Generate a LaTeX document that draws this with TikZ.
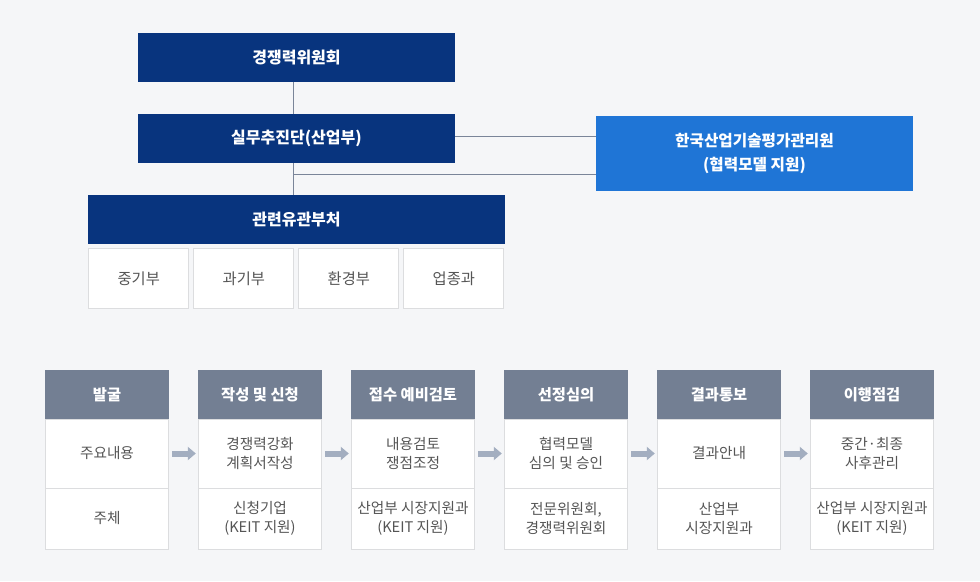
\documentclass[tikz,border=0pt]{standalone}
\usepackage{fontspec}
\setmainfont{Noto Sans CJK KR}
\usetikzlibrary{arrows.meta,calc}
\definecolor{bgc}{HTML}{F5F6F8}
\definecolor{navy}{HTML}{08347E}
\definecolor{keitblue}{HTML}{1F75D6}
\definecolor{hdr}{HTML}{737F93}
\definecolor{conncol}{HTML}{7A8599}
\definecolor{cellline}{HTML}{DCDDDF}
\definecolor{txt}{HTML}{555555}
\definecolor{arrc}{HTML}{A3AEC0}
\tikzset{
  navybox/.style={rectangle, fill=navy, draw=none, inner sep=0pt, minimum width=317*0.75pt, minimum height=49*0.75pt, text=white, font=\bfseries\fontsize{12}{14}\selectfont, align=center},
  keitbox/.style={rectangle, fill=keitblue, draw=none, inner sep=0pt, minimum width=317*0.75pt, minimum height=75*0.75pt, text=white, font=\bfseries\fontsize{11.75}{18}\selectfont, align=center},
  subbox/.style={rectangle, fill=white, draw=cellline, line width=0.75pt, inner sep=0pt, minimum width=100*0.75pt, minimum height=60*0.75pt, text=txt, font=\fontsize{11.5}{14}\selectfont},
  hdrbox/.style={rectangle, fill=hdr, draw=none, inner sep=0pt, minimum width=123.4*0.75pt, minimum height=49*0.75pt, text=white, font=\bfseries\fontsize{11.5}{14}\selectfont, align=center},
  cellA/.style={rectangle, fill=white, draw=cellline, line width=0.75pt, inner sep=0pt, minimum width=122.6*0.75pt, minimum height=69*0.75pt, text=txt, font=\fontsize{11}{14}\selectfont, align=center},
  cellB/.style={rectangle, fill=white, draw=cellline, line width=0.75pt, inner sep=0pt, minimum width=122.6*0.75pt, minimum height=61*0.75pt, text=txt, font=\fontsize{11}{14}\selectfont, align=center},
  conn/.style={draw=conncol, line width=0.8pt},
  flowarrow/.style={draw=arrc, line width=4.5pt, -{Triangle[length=6pt, width=9.75pt]}},
}
\begin{document}
\begin{tikzpicture}[x=0.75pt, y=-0.75pt]
\useasboundingbox (0,0) rectangle (980,581);
\fill[bgc] (0,0) rectangle (980,581);

% top org chart
\node[navybox] (c1) at (296.5,57.5) {경쟁력위원회};
\node[navybox] (c2) at (296.5,138.5) {실무추진단(산업부)};
\node[navybox, minimum width=417*0.75pt] (c3) at (296.5,219.5) {관련유관부처};
\node[keitbox] (keit) at (754.5,153.5) {한국산업기술평가관리원\\(협력모델 지원)};

\node[subbox] (s1) at (138.8,278.8) {중기부};
\node[subbox] (s2) at (243.8,278.8) {과기부};
\node[subbox] (s3) at (348.8,278.8) {환경부};
\node[subbox] (s4) at (453.8,278.8) {업종과};

\coordinate (j1) at (293.3,174.3);
\draw[conn] (c1.south -| j1) -- (c2.north -| j1);
\draw[conn] (c2.south -| j1) -- (c3.north -| j1);
\draw[conn] ($(c2.east)+(0,-1.8)$) -- (keit.west |- {$(c2.east)+(0,-1.8)$});
\draw[conn] (j1) -- (keit.west |- j1);

% bottom process
\foreach \i/\h/\a/\b in {
  0/발굴/주요내용/주체,
  1/작성 및 신청/경쟁력강화\\계획서작성/신청기업\\(KEIT 지원),
  2/접수 예비검토/내용검토\\쟁점조정/산업부 시장지원과\\(KEIT 지원),
  3/선정심의/협력모델\\심의 및 승인/전문위원회{,}\\경쟁력위원회,
  4/결과통보/결과안내/산업부\\시장지원과,
  5/이행점검/중간·최종\\사후관리/산업부 시장지원과\\(KEIT 지원)}{
  \pgfmathsetmacro{\cx}{107+153*\i}
  \node[hdrbox] (h\i) at (\cx,394.5) {\h};
  \node[cellA] (a\i) at (\cx,453.5) {\a};
  \node[cellB] (b\i) at (\cx,518.5) {\b};
}
\foreach \i [evaluate=\i as \j using int(\i+1)] in {0,...,4}{
  \draw[flowarrow] ([xshift=2.5pt]a\i.east) -- ([xshift=-1.8pt]a\j.west);
}
\end{tikzpicture}
\end{document}
